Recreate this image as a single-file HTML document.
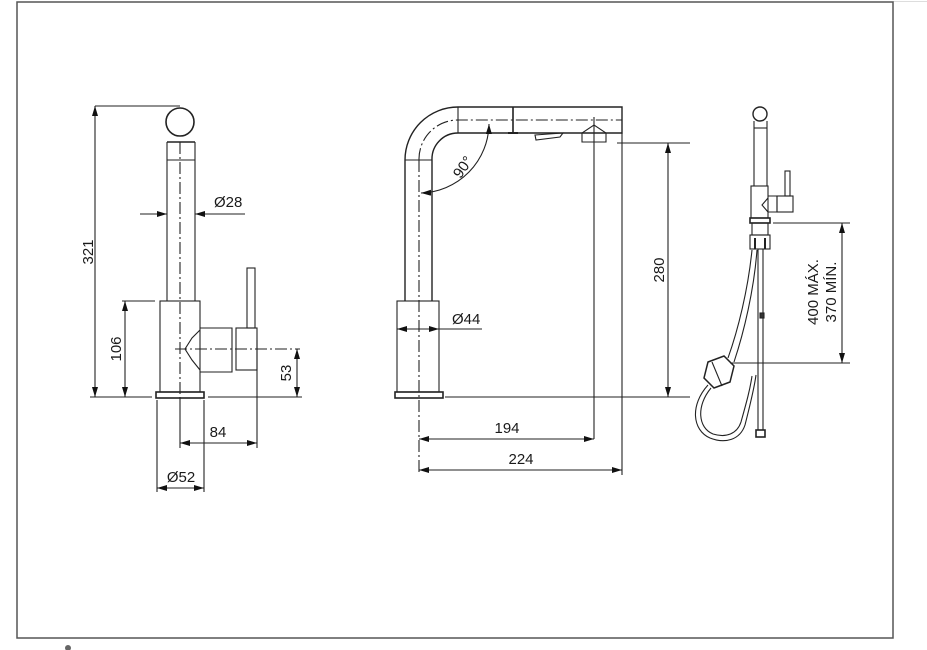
<!DOCTYPE html>
<html><head><meta charset="utf-8"><style>
html,body{margin:0;padding:0;background:#fff;width:927px;height:650px;overflow:hidden}
svg{display:block}
text{font-family:"Liberation Sans",Arial,sans-serif;font-size:15px;fill:#1a1a1a}
</style></head><body>
<svg width="927" height="650" viewBox="0 0 927 650" xmlns="http://www.w3.org/2000/svg">
<defs>
<marker id="a" viewBox="0 0 10 6" refX="10" refY="3" markerWidth="11" markerHeight="6" orient="auto-start-reverse" markerUnits="userSpaceOnUse"><path d="M0,0L10,3L0,6z" fill="#111"/></marker>
</defs>
<line x1="893" y1="1.5" x2="927" y2="1.5" stroke="#ddd"/>
<rect x="17" y="2" width="876" height="636" fill="none" stroke="#555" stroke-width="1.5"/>
<circle cx="68" cy="648" r="3" fill="#666"/>
<g fill="none" stroke="#222" stroke-width="1.1">
<!-- LEFT VIEW -->
<circle cx="180" cy="122" r="14" stroke-width="1.6"/>
<line x1="167" y1="142" x2="167" y2="301"/><line x1="195" y1="142" x2="195" y2="301"/>
<line x1="167" y1="142" x2="195" y2="142" stroke-width="1.6"/><line x1="167" y1="160" x2="195" y2="160"/>
<rect x="160" y="301" width="40" height="91"/>
<rect x="156" y="392" width="48" height="6" stroke-width="1.6"/>
<line x1="180" y1="142" x2="180" y2="398" stroke-dasharray="12,3,2,3"/>
<rect x="247" y="268" width="8" height="60"/>
<rect x="236" y="328" width="21" height="42"/>
<path d="M200,328 L232,328 L232,372 L200,372 M200,330 L192,338 L185,349 L192,360 L200,370"/>
<line x1="175" y1="349" x2="300" y2="349" stroke-dasharray="12,3,2,3"/>
<line x1="95" y1="106" x2="180" y2="106"/>
<line x1="90" y1="397" x2="152" y2="397"/><line x1="208" y1="397" x2="302" y2="397"/>
<line x1="95" y1="106" x2="95" y2="397" marker-start="url(#a)" marker-end="url(#a)"/>
<line x1="122" y1="301" x2="155" y2="301"/>
<line x1="125" y1="301" x2="125" y2="397" marker-start="url(#a)" marker-end="url(#a)"/>
<line x1="297" y1="349" x2="297" y2="397" marker-start="url(#a)" marker-end="url(#a)"/>
<line x1="140" y1="214" x2="167" y2="214" marker-end="url(#a)"/>
<line x1="245" y1="214" x2="195" y2="214" marker-end="url(#a)"/>
<line x1="257" y1="340" x2="257" y2="448"/><line x1="180" y1="398" x2="180" y2="448"/>
<line x1="180" y1="443" x2="257" y2="443" marker-start="url(#a)" marker-end="url(#a)"/>
<line x1="157" y1="400" x2="157" y2="492"/><line x1="204" y1="400" x2="204" y2="492"/>
<line x1="157" y1="488" x2="204" y2="488" marker-start="url(#a)" marker-end="url(#a)"/>
<!-- MIDDLE VIEW -->
<path d="M405,301 L405,160 A53,53 0 0 1 458,107 L622,107 L622,133 L458,133 A26,26 0 0 0 432,160 L432,301" stroke-width="1.4"/>
<path d="M419,160 A39,39 0 0 1 458,120 L622,120" stroke-dasharray="12,3,2,3"/>
<line x1="405" y1="160" x2="432" y2="160"/><line x1="458" y1="107" x2="458" y2="133"/>
<line x1="513" y1="107" x2="513" y2="133" stroke-width="1.6"/>
<line x1="508" y1="133" x2="518" y2="133" stroke-width="2"/>
<path d="M535,135 L563,133 L560,137 L536,140 z"/>
<path d="M582,142 L582,133 L594,125 L606,133 L606,142 z"/>
<line x1="594" y1="117" x2="594" y2="439"/>
<rect x="397" y="301" width="42" height="91"/>
<rect x="395" y="392" width="48" height="6" stroke-width="1.6"/>
<line x1="419" y1="160" x2="419" y2="475" stroke-dasharray="12,3,2,3"/>
<path d="M489,124 A70,70 0 0 1 421,193" marker-start="url(#a)" marker-end="url(#a)"/>
<line x1="397" y1="329" x2="419" y2="329" marker-start="url(#a)"/>
<line x1="419" y1="329" x2="439" y2="329" marker-end="url(#a)"/>
<line x1="439" y1="329" x2="482" y2="329"/>
<line x1="617" y1="143" x2="690" y2="143"/><line x1="445" y1="397" x2="690" y2="397"/>
<line x1="668" y1="143" x2="668" y2="397" marker-start="url(#a)" marker-end="url(#a)"/>
<line x1="419" y1="439" x2="594" y2="439" marker-start="url(#a)" marker-end="url(#a)"/>
<line x1="622" y1="133" x2="622" y2="475"/>
<line x1="419" y1="470" x2="622" y2="470" marker-start="url(#a)" marker-end="url(#a)"/>
<!-- RIGHT VIEW -->
<circle cx="760" cy="114" r="7" stroke-width="1.4"/>
<line x1="754" y1="121" x2="754" y2="186"/><line x1="767" y1="121" x2="767" y2="186"/>
<line x1="754" y1="128" x2="767" y2="128"/>
<rect x="751" y="186" width="17" height="32"/>
<rect x="785" y="171" width="5" height="25"/>
<rect x="777" y="196" width="16" height="16"/>
<path d="M768,196 L777,196 L777,212 L768,212 M768,198 L762,205 L768,212"/>
<rect x="750" y="218" width="20" height="5" stroke-width="1.6"/>
<rect x="752" y="223" width="16" height="12"/>
<rect x="750" y="235" width="20" height="14"/>
<line x1="755" y1="238" x2="755" y2="249" stroke-width="2"/><line x1="765" y1="238" x2="765" y2="249" stroke-width="2"/>
<line x1="758" y1="249" x2="758" y2="430"/><line x1="763" y1="249" x2="763" y2="430"/>
<rect x="756" y="430" width="9" height="7" stroke-width="1.6"/>
<rect x="760" y="313" width="4" height="5" fill="#333"/>
<path d="M752,250 C748,290 738,330 728,358"/>
<path d="M757,250 C754,290 744,332 734,362"/>
<path d="M708,362 L724,356 L734,366 L730,382 L714,388 L704,378 z" stroke-width="1.5"/>
<line x1="712" y1="362" x2="722" y2="386"/>
<path d="M708,385 C690,405 692,430 710,438 C725,444 740,440 745,425 C750,405 754,390 756,375"/>
<path d="M711,388 C696,406 698,428 713,434 C726,438 737,434 741,422 C746,404 750,390 752,376"/>
<line x1="730" y1="363" x2="850" y2="363"/><line x1="773" y1="223" x2="850" y2="223"/>
<line x1="842" y1="223" x2="842" y2="363" marker-start="url(#a)" marker-end="url(#a)"/>
</g>
<text x="214" y="207">Ø28</text>
<text x="93" y="252" transform="rotate(-90 93 252)" text-anchor="middle">321</text>
<text x="121" y="349" transform="rotate(-90 121 349)" text-anchor="middle">106</text>
<text x="291" y="373" transform="rotate(-90 291 373)" text-anchor="middle">53</text>
<text x="218" y="437" text-anchor="middle">84</text>
<text x="181" y="482" text-anchor="middle">Ø52</text>
<text x="467" y="170" transform="rotate(-55 467 170)" text-anchor="middle">90°</text>
<text x="452" y="324">Ø44</text>
<text x="664" y="270" transform="rotate(-90 664 270)" text-anchor="middle">280</text>
<text x="507" y="433" text-anchor="middle">194</text>
<text x="521" y="464" text-anchor="middle">224</text>
<text x="818" y="292" transform="rotate(-90 818 292)" text-anchor="middle">400 MÁX.</text>
<text x="836" y="292" transform="rotate(-90 836 292)" text-anchor="middle">370 MÍN.</text>
</svg>
</body></html>
